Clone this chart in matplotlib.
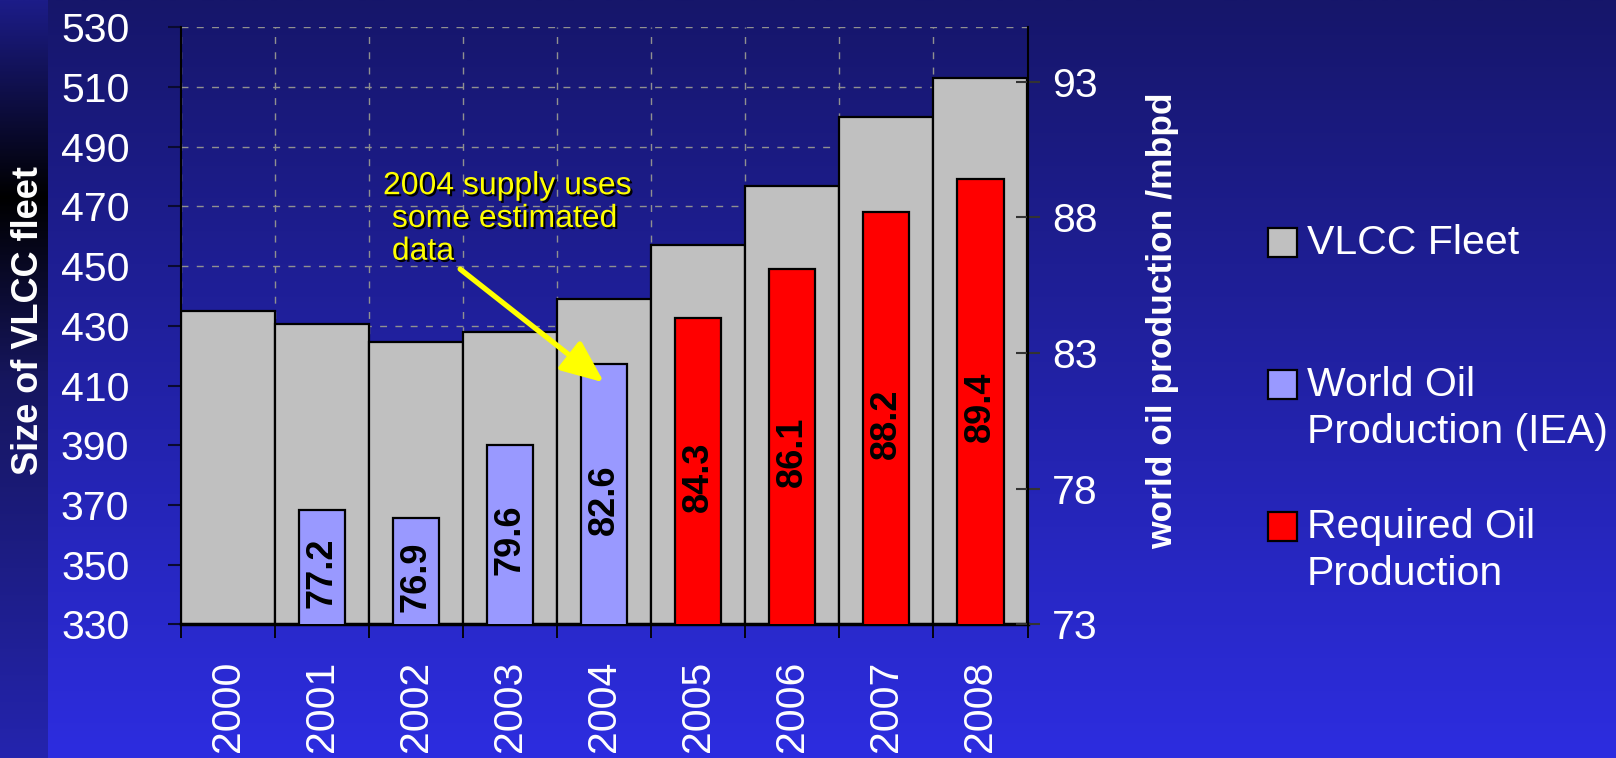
import numpy as np
import matplotlib
matplotlib.use('Agg')
import matplotlib.pyplot as plt
import matplotlib.patheffects as pe
from matplotlib.colors import LinearSegmentedColormap
from matplotlib.patches import Rectangle

plt.rcParams['font.family'] = ['Liberation Sans', 'DejaVu Sans']

# data
years = ['2000', '2001', '2002', '2003', '2004', '2005', '2006', '2007', '2008']
fleet = [435, 430.5, 424.5, 428, 439, 457, 477, 500, 513]
iea_years = ['2001', '2002', '2003', '2004']
iea_prod = [77.2, 76.9, 79.6, 82.6]
req_years = ['2005', '2006', '2007', '2008']
req_prod = [84.3, 86.1, 88.2, 89.4]
legend_labels = ['VLCC Fleet', 'World Oil\nProduction (IEA)', 'Required Oil\nProduction']
legend_colors = ['#c0c0c0', '#9999ff', '#ff0000']
note = '2004 supply uses\n some estimated\n data'

W, H = 1616, 758
fig = plt.figure(figsize=(W / 100, H / 100), dpi=100)

def px(x, y):
    return x / W, 1 - y / H

# slide background
grad = np.linspace(0, 1, 256).reshape(-1, 1)
bg = fig.add_axes([0, 0, 1, 1], zorder=-10)
bg.imshow(grad, aspect='auto', origin='lower', extent=[0, 1, 0, 1],
          cmap=LinearSegmentedColormap.from_list('bg', ['#2d2de0', '#16166a']))
bg.axis('off')
strip = fig.add_axes([0, 0, 48 / W, 1], zorder=-9)
strip.imshow(grad, aspect='auto', origin='lower', extent=[0, 1, 0, 1],
             cmap=LinearSegmentedColormap.from_list(
                 'strip', [(0, '#2424ae'), (0.5, '#16165e'), (0.74, '#000000'), (1, '#1c1c88')]))
strip.axis('off')

left, right, top, bottom = 180.7, 1027.5, 27.3, 624.3
ax = fig.add_axes([left / W, 1 - bottom / H, (right - left) / W, (bottom - top) / H])
ax.patch.set_alpha(0)

x = np.arange(len(years))
ax.bar(x, fleet, width=1.0, color='#c0c0c0', edgecolor='black', linewidth=1.6, zorder=2)
ax.set_xlim(-0.5, len(years) - 0.5)
ax.set_ylim(330, 530)
ax.set_yticks(np.arange(330, 531, 20))
ax.set_xticks(x)
ax.set_xticklabels(years, rotation=90)
ax.set_xticks(np.arange(len(years) + 1) - 0.5, minor=True)

ax.set_axisbelow(True)
ax.yaxis.grid(True, color='#909090', linestyle=(0, (5, 6)), linewidth=1)
ax.xaxis.grid(True, which='minor', color='#909090', linestyle=(0, (5, 6)), linewidth=1)

ax.tick_params(axis='y', direction='out', length=9.4, width=1.5, color='#0a0a30',
               labelsize=29.5, labelcolor='white', pad=27.5)
ax.tick_params(axis='x', which='major', length=0, labelsize=29.5, labelcolor='white', pad=26)
ax.tick_params(axis='x', which='minor', direction='out', length=10, width=1.3, color='black')
for s in ['top', 'right']:
    ax.spines[s].set_visible(False)
ax.spines['left'].set_linewidth(1.5)
ax.spines['bottom'].set_linewidth(2.5)

ax2 = ax.twinx()
ax2.set_ylim(73, 95)
ax2.set_yticks([73, 78, 83, 88, 93])
iea_x = [years.index(y) for y in iea_years]
req_x = [years.index(y) for y in req_years]
ax2.bar(iea_x, iea_prod, width=0.49, color='#9999ff', edgecolor='black', linewidth=1.6)
ax2.bar(req_x, req_prod, width=0.49, color='#ff0000', edgecolor='black', linewidth=1.6)
for xi, v in zip(iea_x + req_x, iea_prod + req_prod):
    ax2.text(xi, (73 + v) / 2 - 0.2, f'{v}', rotation=90, ha='center', va='center',
             fontsize=26, fontweight='bold', color='black')
ax2.tick_params(axis='y', direction='inout', length=17, width=1.5, color='#333333',
                labelsize=29.5, labelcolor='white', pad=9)
for s in ['top', 'left', 'bottom']:
    ax2.spines[s].set_visible(False)
ax2.spines['right'].set_linewidth(1.5)

# note and arrow
ax2.annotate('', xy=(4.0, 411), xycoords=ax.transData, xytext=(2.47, 449), textcoords=ax.transData,
             arrowprops=dict(arrowstyle='-|>,head_length=1.3,head_width=0.55', color='yellow',
                             lw=3.8, mutation_scale=20, shrinkA=0, shrinkB=0))
ax2.text(1.65, 481.8, note, transform=ax.transData, ha='left', va='top', fontsize=23,
         color='yellow', linespacing=1.12,
         path_effects=[pe.withSimplePatchShadow(offset=(1.5, -1.5), shadow_rgbFace='black', alpha=1)])

# axis titles
fig.text(*px(29, 321), 'Size of VLCC fleet', rotation=90, ha='center', va='center',
         fontsize=26, fontweight='bold', color='white')
fig.text(*px(1163, 321), 'world oil production /mbpd', rotation=90, ha='center', va='center',
         fontsize=25.5, fontweight='bold', color='white')

# legend
for ytop, lab, col in zip([228, 370, 512], legend_labels, legend_colors):
    fx, fy = px(1268, ytop + 29)
    fig.patches.append(Rectangle((fx, fy), 29 / W, 29 / H, transform=fig.transFigure,
                                 facecolor=col, edgecolor='black', linewidth=1.6))
    fig.text(*px(1307, ytop - 4), lab, ha='left', va='top', fontsize=29.5, color='white',
             linespacing=1.3)

fig.savefig('out.png', dpi=100)
